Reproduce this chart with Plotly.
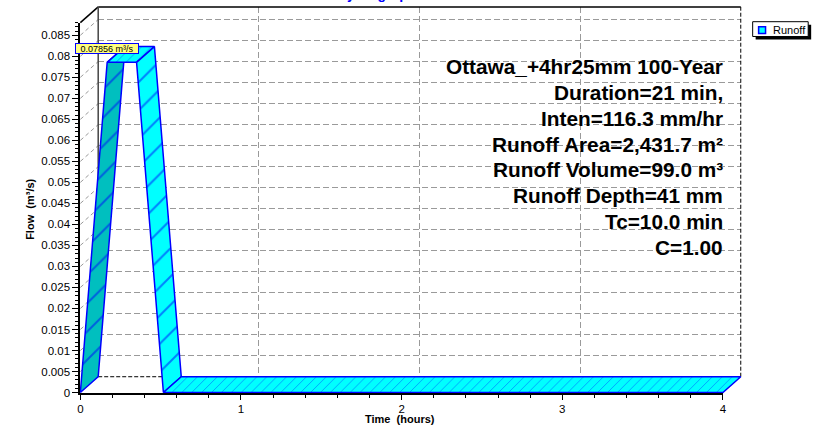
import plotly.graph_objects as go

# ---------------- data ----------------
TIME_H = [0.0, 0.167, 0.35, 0.517, 4.0]
FLOW_CMS = [0.0, 0.07856, 0.07856, 0.0, 0.0]
SERIES_NAME = "Runoff"
PEAK_LABEL = "0.07856 m³/s"
CHART_TITLE = "Hydrograph"
X_TITLE = "Time\u00a0\u00a0(hours)"
Y_TITLE = "Flow\u00a0\u00a0(m³/s)"
X_TICK_VALS = [0, 1, 2, 3, 4]
X_TICK_TEXT = ["0", "1", "2", "3", "4"]
Y_TICK_VALS = [0, 0.005, 0.01, 0.015, 0.02, 0.025, 0.03, 0.035, 0.04, 0.045,
               0.05, 0.055, 0.06, 0.065, 0.07, 0.075, 0.08, 0.085]
Y_TICK_TEXT = ["0", "0.005", "0.01", "0.015", "0.02", "0.025", "0.03", "0.035",
               "0.04", "0.045", "0.05", "0.055", "0.06", "0.065", "0.07",
               "0.075", "0.08", "0.085"]
INFO_LINES = ["Ottawa_+4hr25mm 100-Year", "Duration=21 min,", "Inten=116.3 mm/hr",
              "Runoff Area=2,431.7 m²", "Runoff Volume=99.0 m³", "Runoff Depth=41 mm",
              "Tc=10.0 min", "C=1.00"]

# ---------------- layout constants (pixels) ----------------
W, H = 835, 435
X_MIN, X_MAX = 0.0, 4.0
Y_MAX = 0.088
FX0, FX1 = 78, 726      # front x-axis pixel span
FY0, FY1 = 398, 23      # front y-axis pixel span (bottom, top)
DXP, DYP = 18, 16       # depth offset in pixels
PAD = 4

FONT = "Liberation Sans, Arial, Helvetica, sans-serif"
EDGE = "#0000FF"
RISE_FILL = "#00BFBF"
FLAT_FILL = "#00FFFF"
GRID = "#9a9a9a"


def px_x(p):
    return p / W


def px_y(p):
    return 1 - p / H


sx = (FX1 - FX0) / (X_MAX - X_MIN)
sy = (FY0 - FY1) / Y_MAX
DX = DXP / sx
DY = DYP / sy

fig = go.Figure()

# dummy traces so every subplot exists
fig.add_trace(go.Scatter(x=[None], y=[None], xaxis="x", yaxis="y", showlegend=False, hoverinfo="skip"))

# ribbon segments
for i in range(len(TIME_H) - 1):
    t0, t1 = TIME_H[i], TIME_H[i + 1]
    q0, q1 = FLOW_CMS[i], FLOW_CMS[i + 1]
    rising = q1 > q0
    sloped = q1 != q0
    fill = RISE_FILL if rising else FLAT_FILL
    fig.add_trace(go.Scatter(
        x=[t0, t1, t1 + DX, t0 + DX, t0],
        y=[q0, q1, q1 + DY, q0 + DY, q0],
        xaxis="x2", yaxis="y2",
        mode="lines", fill="toself", fillcolor=fill,
        fillpattern=dict(shape="/", fgcolor=EDGE, bgcolor=fill,
                         size=20 if sloped else 7, solidity=0.1),
        line=dict(color=EDGE, width=1.5),
        showlegend=False, hoverinfo="skip",
    ))

fig.add_trace(go.Scatter(x=[None], y=[None], xaxis="x3", yaxis="y3", showlegend=False, hoverinfo="skip"))

shapes = []
# side wall diagonals
for v in Y_TICK_VALS[1:]:
    shapes.append(dict(type="line", xref="x2", yref="y2", x0=0, y0=v, x1=DX, y1=v + DY,
                       line=dict(color=GRID, width=1, dash="4px,3px"), layer="below"))
# back plane edges
shapes += [
    dict(type="line", xref="x2", yref="y2", x0=0, y0=Y_MAX, x1=DX, y1=Y_MAX + DY,
         line=dict(color="black", width=1.5), layer="below"),
    dict(type="line", xref="x2", yref="y2", x0=DX, y0=Y_MAX + DY, x1=X_MAX + DX, y1=Y_MAX + DY,
         line=dict(color="black", width=1.5), layer="below"),
    dict(type="line", xref="x2", yref="y2", x0=X_MAX + DX, y0=DY, x1=X_MAX + DX, y1=Y_MAX + DY,
         line=dict(color="black", width=1, dash="4px,2px"), layer="below"),
    dict(type="line", xref="x2", yref="y2", x0=DX, y0=DY, x1=DX, y1=Y_MAX + DY,
         line=dict(color="#444444", width=1.5), layer="below"),
    dict(type="line", xref="x2", yref="y2", x0=DX, y0=DY, x1=X_MAX + DX, y1=DY,
         line=dict(color="black", width=1, dash="4px,2px"), layer="below"),
]
# manual legend
shapes += [
    dict(type="rect", xref="paper", yref="paper", x0=px_x(759), x1=px_x(815), y0=px_y(40), y1=px_y(25),
         fillcolor="black", line=dict(width=0), layer="above"),
    dict(type="rect", xref="paper", yref="paper", x0=px_x(756), x1=px_x(812), y0=px_y(37), y1=px_y(22),
         fillcolor="white", line=dict(color="black", width=1), layer="above"),
    dict(type="rect", xref="paper", yref="paper", x0=px_x(762), x1=px_x(769), y0=px_y(34), y1=px_y(27),
         fillcolor=FLAT_FILL, line=dict(color=EDGE, width=1.5), layer="above"),
]

annotations = []
peak_i = FLOW_CMS.index(max(FLOW_CMS))
annotations.append(dict(
    x=TIME_H[peak_i], y=FLOW_CMS[peak_i], xref="x2", yref="y2", showarrow=False,
    text=PEAK_LABEL, font=dict(family=FONT, size=9, color="black"),
    bgcolor="#FFFF80", bordercolor=EDGE, borderwidth=1, borderpad=0,
    width=62, height=9, yshift=13.5, xanchor="center", yanchor="middle"))
for k, line in enumerate(INFO_LINES):
    annotations.append(dict(
        x=px_x(728), y=px_y(67.5 + 26.2 * k), xref="paper", yref="paper",
        xanchor="right", yanchor="middle", showarrow=False,
        text="<b>" + line + "</b>", font=dict(family=FONT, size=20.8, color="black")))
annotations += [
    dict(x=px_x(774), y=px_y(30), xref="paper", yref="paper", xanchor="left", yanchor="middle",
         showarrow=False, text=SERIES_NAME, font=dict(family=FONT, size=11, color="black")),
    dict(x=px_x(377), y=1, xref="paper", yref="paper", xanchor="center", yanchor="bottom",
         yshift=-4, showarrow=False, text="<b>" + CHART_TITLE + "</b>",
         font=dict(family=FONT, size=14, color=EDGE)),
    dict(x=px_x(27), y=px_y(212), xref="paper", yref="paper", textangle=-90, showarrow=False,
         xanchor="center", yanchor="middle",
         text="<b>" + Y_TITLE + "</b>", font=dict(family=FONT, size=11, color="black")),
    dict(x=px_x(400), y=px_y(425), xref="paper", yref="paper", showarrow=False,
         xanchor="center", yanchor="middle",
         text="<b>" + X_TITLE + "</b>", font=dict(family=FONT, size=11, color="black")),
]

hidden = dict(visible=False, showgrid=False, zeroline=False, fixedrange=True)

fig.update_layout(
    width=W, height=H, autosize=False,
    margin=dict(l=0, r=0, t=0, b=0, pad=0),
    paper_bgcolor="white", plot_bgcolor="rgba(0,0,0,0)",
    showlegend=False,
    font=dict(family=FONT, size=11, color="black"),
    # back plane grid
    xaxis=dict(domain=[px_x(FX0 + DXP), px_x(FX1 + DXP)], range=[X_MIN, X_MAX], anchor="y",
               tickvals=X_TICK_VALS[1:-1], showticklabels=False, ticks="",
               showgrid=True, gridcolor=GRID, gridwidth=1, griddash="6px,3px",
               zeroline=False, showline=False),
    yaxis=dict(domain=[px_y(FY0 - DYP), px_y(FY1 - DYP)], range=[0, Y_MAX], anchor="x",
               tickvals=Y_TICK_VALS[1:], showticklabels=False, ticks="",
               showgrid=True, gridcolor=GRID, gridwidth=1, griddash="6px,3px",
               zeroline=False, showline=False),
    # extended 3D space for the ribbon
    xaxis2=dict(hidden, domain=[px_x(FX0 - PAD), px_x(FX1 + DXP + PAD)],
                range=[X_MIN - PAD / sx, X_MAX + DX + PAD / sx], anchor="y2"),
    yaxis2=dict(hidden, domain=[px_y(FY0 + PAD), px_y(FY1 - DYP - PAD)],
                range=[-PAD / sy, Y_MAX + DY + PAD / sy], anchor="x2"),
    # front axes
    xaxis3=dict(domain=[px_x(FX0), px_x(FX1)], range=[X_MIN, X_MAX], anchor="y3",
                tickvals=X_TICK_VALS, ticktext=X_TICK_TEXT, ticks="outside", ticklen=5,
                tickcolor="black", tickwidth=1,
                minor=dict(dtick=0.2, ticks="outside", ticklen=3, tickcolor="black", showgrid=False),
                showline=True, linecolor="black", linewidth=2, showgrid=False, zeroline=False,
                tickfont=dict(family=FONT, size=11.5, color="black")),
    yaxis3=dict(domain=[px_y(FY0), px_y(FY1)], range=[0, Y_MAX], anchor="x3",
                tickvals=Y_TICK_VALS, ticktext=Y_TICK_TEXT, ticks="outside", ticklen=6,
                tickcolor="black", tickwidth=1,
                minor=dict(dtick=0.001, ticks="outside", ticklen=3, tickcolor="black", showgrid=False),
                showline=True, linecolor="black", linewidth=2, showgrid=False, zeroline=False,
                tickfont=dict(family=FONT, size=11.5, color="black")),
    shapes=shapes,
    annotations=annotations,
)

fig.write_html(
    "out.html",
    config={"displayModeBar": False, "staticPlot": True},
    post_script="document.body.style.margin='0px';document.body.style.overflow='hidden';",
)
